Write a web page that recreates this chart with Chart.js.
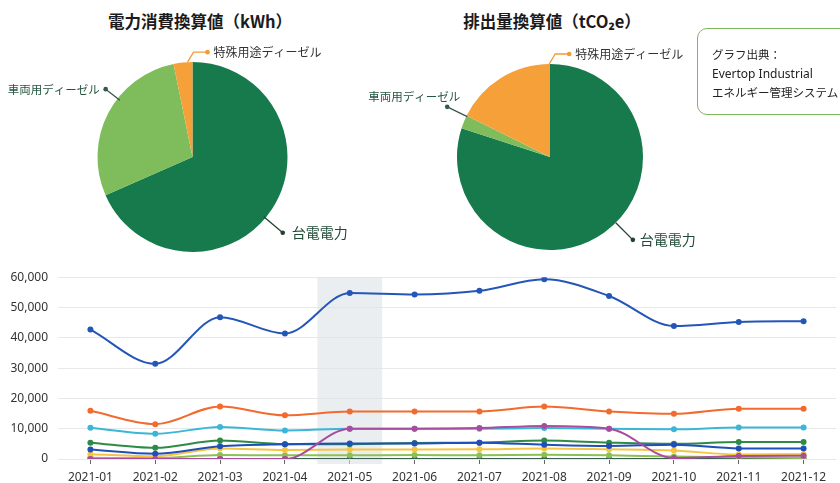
<!DOCTYPE html>
<html lang="ja">
<head>
<meta charset="utf-8">
<script src="https://cdn.jsdelivr.net/npm/chart.js@4.4.1/dist/chart.umd.min.js"></script>
<style>
  html, body { margin: 0; padding: 0; background: #fff; }
  body { width: 840px; height: 483px; position: relative; overflow: hidden;
         font-family: 'Noto Sans', 'Noto Sans CJK JP', sans-serif; }
  .title { position: absolute; top: 9px; line-height: 24px; font-size: 16.5px; font-weight: bold;
           color: #1b1b1b; white-space: nowrap; transform: translateX(-50%);
           font-family: 'Noto Sans CJK JP', 'Noto Sans', sans-serif; }
  canvas { position: absolute; }
  #pie1 { left: 0; top: 42px; }
  #pie2 { left: 358px; top: 42px; }
  #line { left: 0; top: 260px; }
  .source { position: absolute; left: 697px; top: 28px; width: 170px; height: 87px;
            box-sizing: border-box; border: 1.5px solid #7cb85a; border-radius: 10px;
            padding: 16px 0 0 14px; font-size: 11.5px; line-height: 19px; color: #222;
            font-family: 'Noto Sans', 'Noto Sans CJK JP', sans-serif; }
  .source div { white-space: nowrap; }
</style>
</head>
<body>
<div class="title" style="left:200px">電力消費換算値（kWh）</div>
<div class="title" style="left:552px">排出量換算値（tCO₂e）</div>
<canvas id="pie1" width="385" height="230"></canvas>
<canvas id="pie2" width="384" height="230"></canvas>
<div class="source">
  <div style="font-family:'Noto Sans CJK JP'">グラフ出典：</div>
  <div style="font-size:12px">Evertop Industrial</div>
  <div style="font-family:'Noto Sans CJK JP'">エネルギー管理システム</div>
</div>
<canvas id="line" width="840" height="223"></canvas>
<script>
// pie data (share of each source)
const sources = ['台電電力', '車両用ディーゼル', '特殊用途ディーゼル'];
const kwhShare = [68.4, 28.4, 3.2];
const co2Share = [80.0, 2.3, 17.7];
const pieColors = ['#167a4c', '#7fbd5c', '#f6a03a'];

// monthly line data
const months = ['2021-01', '2021-02', '2021-03', '2021-04', '2021-05', '2021-06',
                '2021-07', '2021-08', '2021-09', '2021-10', '2021-11', '2021-12'];
const seriesMain   = [42700, 31400, 46800, 41400, 54800, 54300, 55500, 59300, 53800, 43900, 45200, 45500];
const seriesOrange = [15900, 11500, 17300, 14400, 15700, 15700, 15700, 17300, 15700, 14900, 16600, 16600];
const seriesPurple = [0, 0, 0, 0, 10000, 10000, 10200, 10900, 10000, 300, 1000, 1100];
const seriesCyan   = [10300, 8300, 10600, 9400, 10000, 10000, 10000, 10200, 10000, 9800, 10400, 10400];
const seriesBlue   = [3100, 1700, 4200, 4900, 5100, 5100, 5400, 4700, 4300, 4700, 3500, 3500];
const seriesGreen  = [5400, 3700, 6100, 4900, 4900, 5300, 5400, 6100, 5400, 5000, 5600, 5600];
const seriesYellow = [1600, 900, 3500, 3000, 3100, 3100, 3200, 3500, 3200, 2800, 1500, 1600];
const seriesLime   = [400, 300, 1300, 1200, 1200, 1300, 1200, 1400, 1200, 800, 600, 300];
const seriesBase   = [0, 0, 0, 0, 0, 0, 0, 0, 0, 0, 0, 0];
const yTicks = [0, 10000, 20000, 30000, 40000, 50000, 60000];
const highlightIndex = 4;

const cjk = "'Noto Sans CJK JP', 'Noto Sans', sans-serif";

// leader lines with labels for the pies
const leaders = {
    id: 'leaders',
    afterDraw(chart, args, opts) {
        const ctx = chart.ctx;
        const arcs = chart.getDatasetMeta(0).data;
        opts.items.forEach((it, i) => {
            const arc = arcs[i];
            const cx = arc.x, cy = arc.y, R = arc.outerRadius;
            const a = (it.angle - 90) * Math.PI / 180;
            const sx = cx + Math.cos(a) * R * it.r0, sy = cy + Math.sin(a) * R * it.r0;
            let dx, dy;
            ctx.save();
            ctx.strokeStyle = it.color;
            ctx.fillStyle = it.color;
            ctx.lineWidth = 1.3;
            ctx.beginPath();
            ctx.moveTo(sx, sy);
            if (it.elbow) {
                const bx = sx + 6, by = sy - 10;
                ctx.lineTo(bx, by);
                dx = bx + 14; dy = by;
            } else {
                dx = cx + Math.cos(a) * R * it.r1;
                dy = cy + Math.sin(a) * R * it.r1;
            }
            ctx.lineTo(dx, dy);
            ctx.stroke();
            ctx.beginPath();
            ctx.arc(dx, dy, 2.3, 0, Math.PI * 2);
            ctx.fill();
            ctx.font = it.size + 'px ' + cjk;
            ctx.fillStyle = it.textColor;
            ctx.textAlign = it.align;
            ctx.textBaseline = 'middle';
            ctx.fillText(sources[i], dx + it.tx, dy + it.ty);
            ctx.restore();
        });
    }
};

function makePie(id, values, pad, items) {
    new Chart(document.getElementById(id), {
        type: 'pie',
        data: {
            labels: sources,
            datasets: [{ data: values, backgroundColor: pieColors, borderWidth: 0 }]
        },
        options: {
            responsive: false,
            animation: false,
            layout: { padding: { top: pad, bottom: pad } },
            plugins: { legend: { display: false }, tooltip: { enabled: false }, leaders: { items } }
        },
        plugins: [leaders]
    });
}

makePie('pie1', kwhShare, 20, [
    { angle: 130, r0: 0.98, r1: 1.24, color: '#24402f', textColor: '#1f4a36', size: 14, align: 'left', tx: 9, ty: 0 },
    { angle: 308, r0: 0.97, r1: 1.16, color: '#35594a', textColor: '#24563e', size: 11.5, align: 'right', tx: -6, ty: 0 },
    { angle: 357, r0: 1.0, elbow: true, color: '#f39a34', textColor: '#333', size: 12, align: 'left', tx: 6, ty: 0 }
]);
makePie('pie2', co2Share, 22, [
    { angle: 135, r0: 1.0, r1: 1.26, color: '#24402f', textColor: '#1f4a36', size: 14, align: 'left', tx: 7, ty: 0 },
    { angle: 296, r0: 0.99, r1: 1.23, color: '#35594a', textColor: '#24563e', size: 11.5, align: 'right', tx: 13, ty: -10 },
    { angle: 359.5, r0: 1.0, elbow: true, color: '#f39a34', textColor: '#333', size: 12, align: 'left', tx: 6, ty: 0 }
]);

// grey band behind the highlighted month
const band = {
    id: 'band',
    beforeDatasetsDraw(chart) {
        const { ctx, chartArea, scales: { x } } = chart;
        const w = x.getPixelForValue(1) - x.getPixelForValue(0);
        const c = x.getPixelForValue(highlightIndex);
        ctx.save();
        ctx.fillStyle = 'rgba(222,226,232,0.6)';
        ctx.fillRect(c - w / 2, chartArea.top, w, chartArea.bottom - chartArea.top + 5);
        ctx.restore();
    }
};

function ds(data, color) {
    return {
        data, borderColor: color, backgroundColor: color,
        borderWidth: 2, pointRadius: 3, pointBorderWidth: 0,
        cubicInterpolationMode: 'monotone', fill: false
    };
}

new Chart(document.getElementById('line'), {
    type: 'line',
    data: {
        labels: months,
        datasets: [
            ds(seriesMain, '#2456b8'),
            ds(seriesOrange, '#f26a2e'),
            ds(seriesPurple, '#a84c9e'),
            ds(seriesCyan, '#3bb6d6'),
            ds(seriesBlue, '#1f4fb8'),
            ds(seriesGreen, '#2e8b45'),
            ds(seriesYellow, '#f6c443'),
            ds(seriesLime, '#8cc152'),
            ds(seriesBase, '#3a5f52')
        ]
    },
    options: {
        responsive: false,
        animation: false,
        layout: { padding: { top: 9, right: 3 } },
        plugins: { legend: { display: false }, tooltip: { enabled: false } },
        scales: {
            x: {
                offset: true,
                border: { display: false },
                grid: { drawOnChartArea: false, drawTicks: true, tickLength: 5, color: '#666' },
                ticks: { color: '#333', padding: 6, maxRotation: 0, font: { size: 12, family: 'Noto Sans' } },
                afterFit(scale) { scale.height = 24; }
            },
            y: {
                min: 0, max: 60000,
                border: { display: false },
                grid: { color: '#e6e8eb', drawTicks: false },
                afterBuildTicks(scale) { scale.ticks = yTicks.map(v => ({ value: v })); },
                ticks: {
                    color: '#333', padding: 10, font: { size: 12, family: 'Noto Sans' },
                    callback: v => v.toLocaleString('en-US')
                },
                afterFit(scale) { scale.width = 58; }
            }
        }
    },
    plugins: [band]
});
</script>
</body>
</html>
